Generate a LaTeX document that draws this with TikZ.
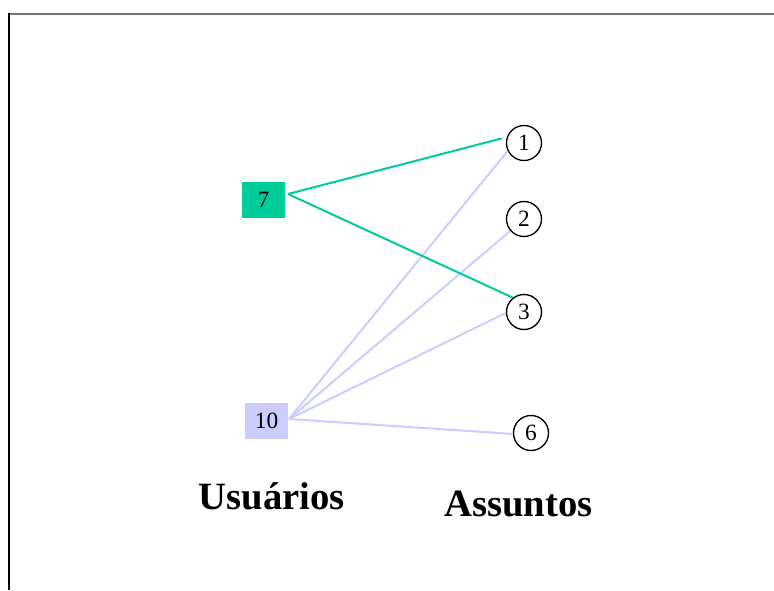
\documentclass[tikz,border=0pt]{standalone}
\usepackage{fontspec}
\setmainfont{Liberation Serif}
\definecolor{usrgreen}{RGB}{0,204,153}
\definecolor{usrlav}{RGB}{204,204,255}
\begin{document}
\begin{tikzpicture}[x=0.75pt,y=-0.75pt,
  userbox/.style={rectangle,inner sep=0pt,minimum width=32.25pt,minimum height=26.5pt,font=\fontsize{17.5}{17.5}\selectfont},
  topic/.style={circle,draw=black,line width=1pt,fill=white,inner sep=0pt,minimum size=26.25pt,font=\fontsize{17.5}{17.5}\selectfont},
  greenedge/.style={draw=usrgreen,line width=1.5pt},
  lavedge/.style={draw=usrlav,line width=1.5pt},
  heading/.style={anchor=base,font=\fontsize{29}{29}\selectfont\bfseries}]
  \useasboundingbox (0,0) rectangle (774,590);
  % frame lines
  \draw[draw=black!55,line width=1.6pt] (9,14) -- (774,14);
  \draw[draw=black,line width=1.6pt] (9,13.4) -- (9,590);

  % users
  \node[userbox,fill=usrgreen] (u7) at (263.5,200) {7};
  \node[userbox,fill=usrlav] (u10) at (266.5,421) {10};
  \coordinate (s7) at (288,194);
  \coordinate (s10) at (289,419);

  % topics
  \node[topic] (t1) at (524,143) {1};
  \node[topic] (t2) at (524,219) {2};
  \node[topic] (t3) at (524,312) {3};
  \node[topic] (t6) at (531,433) {6};

  % connections
  \path[lavedge] (s10) -- (t1.206);
  \path[lavedge] (s10) -- (t2.221);
  \path[lavedge] (s10) -- (t3.183);
  \path[lavedge] (s10) -- (t6.183);
  \path[greenedge,shorten >=4pt] (s7) -- (t1.161);
  \path[greenedge] (s7) -- (t3.128);

  % column headings
  \node[heading] (hu) at (272,509) {Usuários};
  \node[heading] (ha) at (518.5,516) {Assuntos};
\end{tikzpicture}
\end{document}
